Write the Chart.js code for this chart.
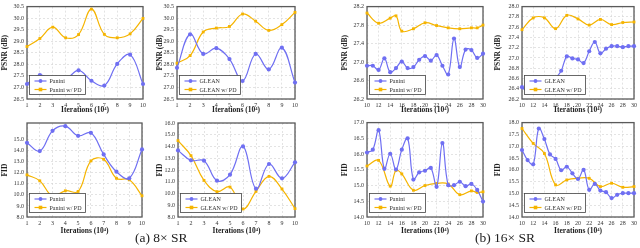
<!DOCTYPE html>
<html>
<head>
<meta charset="utf-8">
<script src="https://cdn.jsdelivr.net/npm/chart.js@4"></script>
<style>
  body { margin: 0; background: #fff; width: 640px; height: 248px; position: relative; overflow: hidden; }
  canvas { position: absolute; }
  .cap { position: absolute; top: 230px; font: 13.5px "Liberation Serif", serif; color: #222; white-space: nowrap; }
</style>
</head>
<body>
<canvas id="c1"></canvas>
<canvas id="c2"></canvas>
<canvas id="c3"></canvas>
<canvas id="c4"></canvas>
<canvas id="c5"></canvas>
<canvas id="c6"></canvas>
<canvas id="c7"></canvas>
<canvas id="c8"></canvas>
<div class="cap" style="left:135px">(a) 8× SR</div>
<div class="cap" style="left:475px">(b) 16× SR</div>
<script>
// iterations (x 10^4)
var iters8 = [1, 2, 3, 4, 5, 6, 7, 8, 9, 10];
var iters16 = [10, 11, 12, 13, 14, 15, 16, 17, 18, 19, 20, 21, 22, 23, 24, 25, 26, 27, 28, 29, 30];
var itersPdPanini16 = [10, 12, 14, 15, 16, 18, 20, 22, 24, 26, 28, 29, 30];
var itersPdGlean16 = [10, 12, 14, 16, 18, 20, 22, 24, 26, 28, 30];

// 8x SR, PSNR
var paniniPsnr8 = [27.15, 27.54, 27.3, 27.35, 27.74, 27.29, 27.08, 28.02, 28.42, 27.15];
var paniniPdPsnr8 = [28.77, 29.12, 29.61, 29.15, 29.29, 30.39, 29.3, 29.15, 29.32, 29.99];
var gleanPsnr8 = [27.85, 29.3, 28.45, 28.7, 28.23, 27.28, 28.45, 27.78, 28.72, 27.21];
var gleanPdPsnr8 = [28.05, 28.38, 29.4, 29.57, 29.64, 30.18, 29.87, 29.47, 29.72, 30.25];

// 16x SR, PSNR
var paniniPsnr16 = [26.92, 26.92, 26.83, 27.08, 26.78, 26.87, 27.01, 26.87, 26.89, 27.05, 27.13,
                    27.03, 27.15, 26.92, 26.73, 27.51, 26.89, 27.27, 27.26, 27.09, 27.18];
var paniniPdPsnr16 = [28.06, 27.84, 27.95, 28.0, 27.67, 27.72, 27.85, 27.79, 27.74, 27.72, 27.74, 27.74, 27.8];
var gleanPsnr16 = [26.43, 26.35, 26.5, 26.45, 26.55, 26.4, 26.6, 26.75, 27.03, 26.99, 26.97,
                   26.9, 27.13, 27.31, 27.09, 27.18, 27.23, 27.23, 27.21, 27.23, 27.23];
var gleanPdPsnr16 = [27.55, 27.78, 27.78, 27.57, 27.83, 27.76, 27.64, 27.75, 27.65, 27.69, 27.7];

// 8x SR, FID
var paniniFid8 = [14.71, 13.96, 15.79, 16.21, 15.34, 15.61, 13.66, 12.1, 11.5, 14.11];
var paniniPdFid8 = [11.81, 11.27, 9.9, 10.37, 10.31, 13.07, 13.22, 11.5, 11.36, 9.92];
var gleanFid8 = [13.67, 12.82, 12.79, 11.09, 11.6, 14.01, 10.41, 12.51, 11.29, 12.65];
var gleanPdFid8 = [14.5, 13.22, 11.12, 10.16, 10.55, 8.68, 10.18, 11.46, 10.38, 8.71];

// 16x SR, FID
var paniniFid16 = [16.05, 16.14, 16.76, 15.53, 16.01, 15.51, 16.14, 16.5, 15.19, 15.42, 15.47,
                   15.56, 14.96, 16.35, 15.01, 15.01, 15.12, 14.98, 15.05, 14.86, 14.49];
var paniniPdFid16 = [15.62, 15.8, 14.98, 15.48, 15.37, 14.85, 15.0, 15.07, 15.05, 14.71, 14.83, 14.78, 14.8];
var gleanFid16 = [16.84, 16.41, 16.23, 17.75, 17.3, 16.65, 16.46, 15.98, 16.13, 15.85, 15.61,
                  16.0, 15.15, 15.4, 15.12, 15.05, 14.8, 14.94, 15.01, 15.01, 15.01];
var gleanPdFid16 = [17.75, 17.12, 16.69, 15.36, 15.57, 15.64, 15.64, 15.29, 15.43, 15.26, 15.29];

var BLUE = '#6f6ff2';
var GOLD = '#f5b400';
var FONT = '"Liberation Serif", "Times New Roman", serif';

Chart.defaults.font.family = FONT;
Chart.defaults.color = '#333';

// grey frame round the plot
var plotBox = {
    id: 'plotBox',
    beforeDatasetsDraw: function (chart) {
        var a = chart.chartArea, ctx = chart.ctx;
        ctx.save();
        ctx.strokeStyle = '#5a5a5a';
        ctx.lineWidth = 1.3;
        ctx.strokeRect(a.left, a.top, a.right - a.left, a.bottom - a.top);
        ctx.restore();
    }
};

// legend boxed inside the plot, bottom left
var legendBox = {
    id: 'legendBox',
    afterDatasetsDraw: function (chart) {
        var a = chart.chartArea, ctx = chart.ctx;
        var sets = chart.data.datasets;
        ctx.save();
        ctx.font = '6px ' + FONT;
        var tw = Math.max.apply(null, sets.map(function (d) { return ctx.measureText(d.label).width; }));
        var w = tw + 24, h = 19;
        var x = a.left + 2.5, y = a.bottom - 4.5 - h;
        ctx.fillStyle = '#fff';
        ctx.fillRect(x, y, w, h);
        ctx.strokeStyle = '#444';
        ctx.lineWidth = 0.8;
        ctx.strokeRect(x, y, w, h);
        sets.forEach(function (d, i) {
            var cy = y + 5.5 + i * 8.5;
            ctx.strokeStyle = d.borderColor;
            ctx.fillStyle = d.borderColor;
            ctx.lineWidth = 1.2;
            ctx.beginPath();
            ctx.moveTo(x + 5, cy);
            ctx.lineTo(x + 17, cy);
            ctx.stroke();
            if (d.pointStyle === 'rect') {
                ctx.fillRect(x + 9.2, cy - 1.8, 3.6, 3.6);
            } else {
                ctx.beginPath();
                ctx.arc(x + 11, cy, 1.9, 0, Math.PI * 2);
                ctx.fill();
            }
            ctx.fillStyle = '#333';
            ctx.textBaseline = 'middle';
            ctx.fillText(d.label, x + 20, cy + 0.5);
        });
        ctx.restore();
    }
};

function series(label, xs, ys, color, style) {
    return {
        label: label,
        data: xs.map(function (x, i) { return { x: x, y: ys[i] }; }),
        borderColor: color,
        backgroundColor: color,
        borderWidth: 1.2,
        pointStyle: style,
        pointRadius: style === 'rect' ? 2 : 2.1,
        pointBorderWidth: 0,
        tension: 0.4,
        clip: false
    };
}

function makeChart(id, box, plot, xr, yr, yTitle, sets) {
    var canvas = document.getElementById(id);
    canvas.width = box.w;
    canvas.height = box.h;
    canvas.style.left = box.left + 'px';
    canvas.style.top = box.top + 'px';
    var yW = plot.left - box.left;
    var xH = box.top + box.h - plot.bottom;
    return new Chart(canvas.getContext('2d'), {
        type: 'line',
        data: { datasets: sets },
        plugins: [plotBox, legendBox],
        options: {
            responsive: false,
            animation: false,
            events: [],
            layout: { padding: { left: 0, right: box.left + box.w - plot.right, top: plot.top - box.top, bottom: 0 } },
            plugins: { legend: { display: false }, tooltip: { enabled: false } },
            scales: {
                x: {
                    type: 'linear',
                    min: xr[0], max: xr[1],
                    afterFit: function (s) { s.height = xH; },
                    border: { display: false, dash: [2, 2] },
                    grid: { color: '#d0d0d0', lineWidth: 0.6, drawTicks: false },
                    ticks: { stepSize: xr[2], autoSkip: false, maxRotation: 0, padding: 3, font: { size: 6 } },
                    title: { display: true, text: 'Iterations (10⁴)', color: '#222', padding: 0,
                             font: { size: 7.5, weight: 'bold' } }
                },
                y: {
                    type: 'linear',
                    min: yr[0], max: yr[1],
                    afterFit: function (s) { s.width = yW; },
                    afterBuildTicks: function (s) {
                        s.ticks = s.ticks.filter(function (t) {
                            return Math.abs(t.value / yr[2] - Math.round(t.value / yr[2])) < 1e-6;
                        });
                    },
                    border: { display: false, dash: [2, 2] },
                    grid: { color: '#d0d0d0', lineWidth: 0.6, drawTicks: false },
                    ticks: { stepSize: yr[2], padding: 3, font: { size: 6 },
                             callback: function (v) { return Number(v).toFixed(1); } },
                    title: { display: true, text: yTitle, color: '#222', padding: { top: 1, bottom: 0 },
                             font: { size: 7.5, weight: 'bold' } }
                }
            }
        }
    });
}

makeChart('c1', { left: 0, top: 0, w: 150, h: 115 }, { left: 27, right: 143, top: 3, bottom: 99 },
    [1, 10, 1], [26.5, 30.5, 0.5], 'PSNR (dB)',
    [series('Panini', iters8, paniniPsnr8, BLUE, 'circle'),
     series('Panini w/ PD', iters8, paniniPdPsnr8, GOLD, 'rect')]);

makeChart('c2', { left: 155, top: 0, w: 150, h: 115 }, { left: 177, right: 295, top: 3, bottom: 99 },
    [1, 10, 1], [26.5, 30.5, 0.5], 'PSNR (dB)',
    [series('GLEAN', iters8, gleanPsnr8, BLUE, 'circle'),
     series('GLEAN w/ PD', iters8, gleanPdPsnr8, GOLD, 'rect')]);

makeChart('c3', { left: 340, top: 0, w: 150, h: 115 }, { left: 367, right: 483, top: 3, bottom: 99 },
    [10, 30, 2], [26.2, 28.2, 0.2], 'PSNR (dB)',
    [series('Panini', iters16, paniniPsnr16, BLUE, 'circle'),
     series('Panini w/ PD', itersPdPanini16, paniniPdPsnr16, GOLD, 'rect')]);

makeChart('c4', { left: 493, top: 0, w: 147, h: 115 }, { left: 522, right: 637, top: 3, bottom: 99 },
    [10, 30, 2], [26.2, 28.0, 0.2], 'PSNR (dB)',
    [series('GLEAN', iters16, gleanPsnr16, BLUE, 'circle'),
     series('GLEAN w/ PD', itersPdGlean16, gleanPdPsnr16, GOLD, 'rect')]);

makeChart('c5', { left: 0, top: 116, w: 150, h: 120 }, { left: 27, right: 142, top: 123, bottom: 217 },
    [1, 10, 1], [8, 16.5, 1], 'FID',
    [series('Panini', iters8, paniniFid8, BLUE, 'circle'),
     series('Panini w/ PD', iters8, paniniPdFid8, GOLD, 'rect')]);

makeChart('c6', { left: 155, top: 116, w: 150, h: 120 }, { left: 178, right: 295, top: 123, bottom: 217 },
    [1, 10, 1], [8, 16, 1], 'FID',
    [series('GLEAN', iters8, gleanFid8, BLUE, 'circle'),
     series('GLEAN w/ PD', iters8, gleanPdFid8, GOLD, 'rect')]);

makeChart('c7', { left: 340, top: 116, w: 150, h: 120 }, { left: 367, right: 483, top: 122, bottom: 217 },
    [10, 30, 2], [14, 17, 0.5], 'FID',
    [series('Panini', iters16, paniniFid16, BLUE, 'circle'),
     series('Panini w/ PD', itersPdPanini16, paniniPdFid16, GOLD, 'rect')]);

makeChart('c8', { left: 493, top: 116, w: 147, h: 120 }, { left: 522, right: 637, top: 122, bottom: 217 },
    [10, 30, 2], [14, 18, 0.5], 'FID',
    [series('GLEAN', iters16, gleanFid16, BLUE, 'circle'),
     series('GLEAN w/ PD', itersPdGlean16, gleanPdFid16, GOLD, 'rect')]);
</script>
</body>
</html>
